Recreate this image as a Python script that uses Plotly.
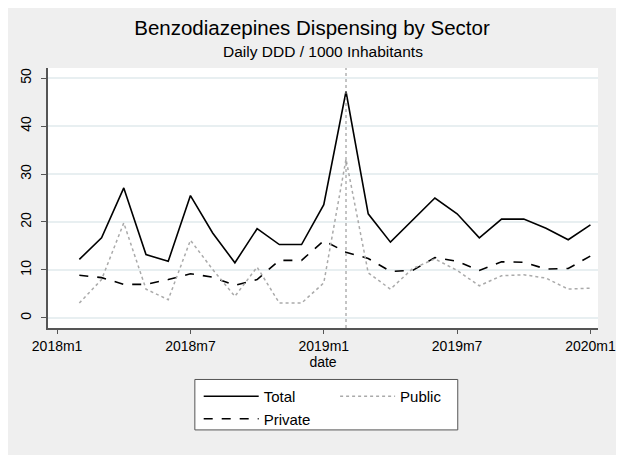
import plotly.graph_objects as go

# months since 2018m1 (1 = 2018m2 ... 24 = 2020m1)
months = list(range(1, 25))
tick_vals = [0, 6, 12, 18, 24]
tick_text = ["2018m1", "2018m7", "2019m1", "2019m7", "2020m1"]

total = [12.2, 16.7, 27.1, 13.2, 11.8, 25.5, 17.7, 11.5, 18.6, 15.3, 15.3, 23.6,
         47.2, 21.7, 15.8, 20.5, 25.0, 21.7, 16.7, 20.6, 20.6, 18.7, 16.3, 19.4]
private = [8.9, 8.4, 7.0, 7.0, 8.0, 9.2, 8.5, 6.8, 8.0, 12.0, 12.0, 16.1,
           13.7, 12.4, 9.7, 9.9, 12.6, 11.8, 9.9, 11.7, 11.6, 10.2, 10.3, 12.9]
public = [3.1, 8.0, 19.8, 6.0, 3.8, 16.2, 10.1, 4.5, 10.6, 3.1, 3.1, 7.3,
          33.1, 9.4, 6.0, 10.3, 12.3, 9.9, 6.7, 8.8, 9.0, 8.3, 6.0, 6.2]
event_month = 13  # 2019m2

fig = go.Figure()
fig.add_trace(go.Scatter(x=months, y=total, mode="lines", name="Total",
                         line=dict(color="black", width=1.6), legend="legend"))
fig.add_trace(go.Scatter(x=months, y=private, mode="lines", name="Private",
                         line=dict(color="black", width=1.6, dash="dash"), legend="legend"))
fig.add_trace(go.Scatter(x=months, y=public, mode="lines", name="Public",
                         line=dict(color="#aaaaaa", width=1.5, dash="dot"), legend="legend2"))

# vertical reference line
fig.add_vline(x=event_month, line=dict(color="#8a8a8a", width=1, dash="dot"))

# legend frame
fig.add_shape(type="rect", xref="paper", yref="paper", x0=0.267, x1=0.745, y0=-0.392, y1=-0.198,
              line=dict(color="#555555", width=1), fillcolor="white", layer="below")

# subtitle
fig.add_annotation(text="Daily DDD / 1000 Inhabitants", xref="paper", yref="paper",
                   x=0.5, y=1.062, xanchor="center", yanchor="middle", showarrow=False,
                   font=dict(size=15.5))

font = "Liberation Sans, Arial, sans-serif"
# page body has an 8px margin and the right 8px of the window are not shown
fig.update_layout(
    width=608, height=447,
    margin=dict(l=40, r=18, t=60, b=127, autoexpand=False),
    paper_bgcolor="#efefef", plot_bgcolor="white",
    font=dict(family=font, color="black", size=14),
    title=dict(text="Benzodiazepines Dispensing by Sector",
               x=0.5, xanchor="center", y=1 - 20 / 447, yanchor="middle", font=dict(size=20.5)),
    xaxis=dict(range=[-0.41, 24.34], tickvals=tick_vals, ticktext=tick_text, showgrid=False,
               zeroline=False, showline=True, linecolor="#555555", linewidth=2,
               ticks="outside", ticklen=4, tickcolor="#555555", tickfont=dict(size=14),
               title=dict(text="date", font=dict(size=14), standoff=0)),
    yaxis=dict(range=[-2.1, 52.1], tickvals=[0, 10, 20, 30, 40, 50], tickangle=-90,
               showgrid=True, gridcolor="#e8eff1", gridwidth=1.5, zeroline=False,
               showline=True, linecolor="#555555", linewidth=2, ticklabelstandoff=4,
               ticks="outside", ticklen=5, tickcolor="#555555", tickfont=dict(size=14)),
    legend=dict(x=0.274, y=-0.2, xanchor="left", yanchor="top", bgcolor="rgba(0,0,0,0)",
                itemwidth=55, tracegroupgap=0, font=dict(size=15)),
    legend2=dict(x=0.522, y=-0.2, xanchor="left", yanchor="top", bgcolor="rgba(0,0,0,0)",
                 itemwidth=55, font=dict(size=15)),
)

fig.write_html("out.html")
